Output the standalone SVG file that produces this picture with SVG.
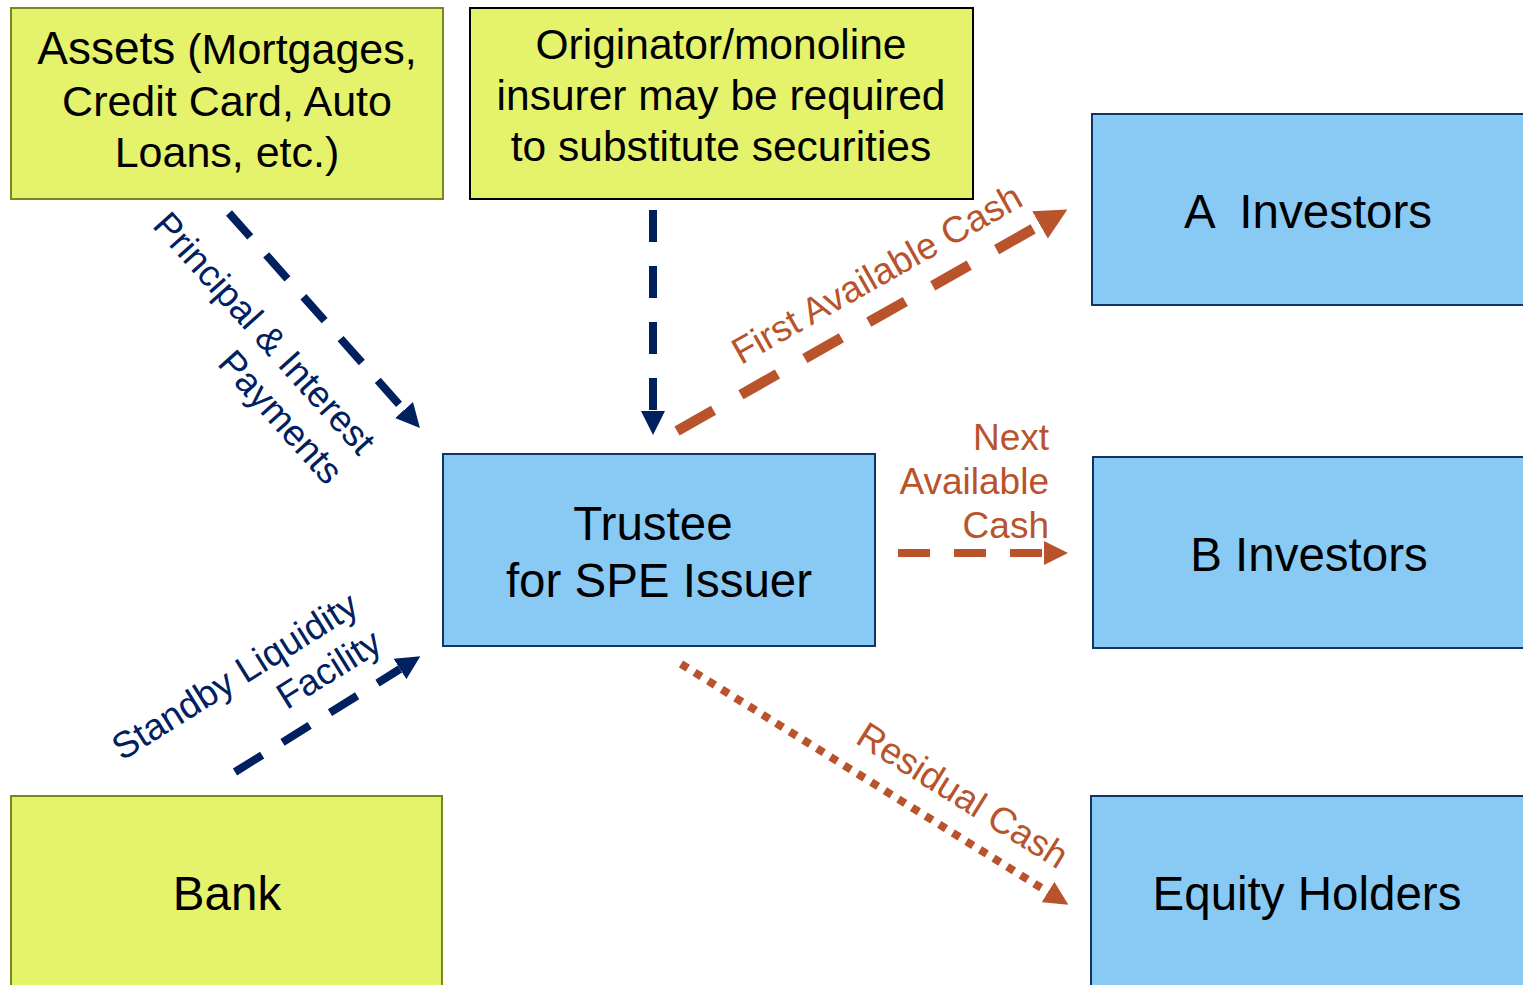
<svg xmlns="http://www.w3.org/2000/svg" width="1523" height="985" viewBox="0 0 1523 985">
<style>
.y{fill:#E4F26C;stroke:#7A861E;stroke-width:2}
.yk{fill:#E4F26C;stroke:#000;stroke-width:2}
.b{fill:#89CAF5;stroke:#0F3566;stroke-width:2}
.t{font-family:"Liberation Sans",Arial,sans-serif;fill:#000;text-anchor:middle}
.l{font-family:"Liberation Sans",Arial,sans-serif;font-size:37px}
.nv{fill:#002060}
.or{fill:#B8532C}
.dn{fill:none;stroke:#002060;stroke-width:8;stroke-dasharray:32 24}
.do{fill:none;stroke:#B8532C;stroke-dasharray:32 24}
</style>
<defs>
<marker id="an" viewBox="0 0 3 3" refX="0" refY="1.5" markerWidth="3" markerHeight="3" orient="auto" markerUnits="strokeWidth"><path d="M0,0 L3,1.5 L0,3z" fill="#002060"/></marker>
<marker id="ao" viewBox="0 0 3 3" refX="0" refY="1.5" markerWidth="3" markerHeight="3" orient="auto" markerUnits="strokeWidth"><path d="M0,0 L3,1.5 L0,3z" fill="#B8532C"/></marker>
</defs>
<g id="assets"><rect class="y" x="11" y="8" width="432" height="191"/>
<text class="t" x="227" y="64" font-size="43"><tspan font-size="46">Assets</tspan> (Mortgages,</text>
<text class="t" x="227" y="116" font-size="43">Credit Card, Auto</text>
<text class="t" x="227" y="167" font-size="43">Loans, etc.)</text></g>
<g id="originator"><rect class="yk" x="470" y="8" width="503" height="191"/>
<text class="t" x="721" y="59" font-size="42.5">Originator/monoline</text>
<text class="t" x="721" y="110" font-size="42.5">insurer may be required</text>
<text class="t" x="721" y="161" font-size="42.5">to substitute securities</text></g>
<g id="a-investors"><rect class="b" x="1092" y="114" width="440" height="191"/>
<text class="t" x="1308" y="228" font-size="47.5" xml:space="preserve">A  Investors</text></g>
<g id="b-investors"><rect class="b" x="1093" y="457" width="440" height="191"/>
<text class="t" x="1309" y="571" font-size="47.5">B Investors</text></g>
<g id="trustee"><rect class="b" x="443" y="454" width="432" height="192"/>
<text class="t" x="653" y="540" font-size="47.5">Trustee</text>
<text class="t" x="659" y="597" font-size="47.5">for SPE Issuer</text></g>
<g id="bank"><rect class="y" x="11" y="796" width="431" height="200"/>
<text class="t" x="227" y="910" font-size="47.5">Bank</text></g>
<g id="equity"><rect class="b" x="1091" y="796" width="440" height="200"/>
<text class="t" x="1307" y="910" font-size="47.5">Equity Holders</text></g>
<g id="connectors">
<path class="dn" d="M229,213 L404,410" marker-end="url(#an)"/>
<path class="dn" d="M653,210 L653,411" marker-end="url(#an)"/>
<path class="dn" d="M235,772 L400,669" marker-end="url(#an)"/>
<path class="do" style="stroke-width:10.5;stroke-dasharray:42 31.5" d="M677,431 L1040,225" marker-end="url(#ao)"/>
<path class="do" style="stroke-width:8" d="M898,553 L1044,553" marker-end="url(#ao)"/>
<path class="do" style="stroke-width:8;stroke-dasharray:8 8" d="M681,664 L1048,892" marker-end="url(#ao)"/>
</g>
<g id="labels">
<g transform="translate(359,457) rotate(48)"><text class="l nv" text-anchor="end" x="0" y="0">Principal &amp; Interest</text><text class="l nv" text-anchor="end" x="0" y="44">Payments</text></g>
<g transform="translate(361,612) rotate(-32)"><text class="l nv" text-anchor="end" x="0" y="0">Standby Liquidity</text><text class="l nv" text-anchor="end" x="0" y="44">Facility</text></g>
<text class="l or" text-anchor="middle" transform="translate(883,285) rotate(-29.5)">First Available Cash</text>
<text class="l or" text-anchor="end" x="1049" y="450">Next</text>
<text class="l or" text-anchor="end" x="1049" y="494">Available</text>
<text class="l or" text-anchor="end" x="1049" y="538">Cash</text>
<text class="l or" text-anchor="middle" transform="translate(956,806) rotate(32)">Residual Cash</text>
</g>
</svg>
